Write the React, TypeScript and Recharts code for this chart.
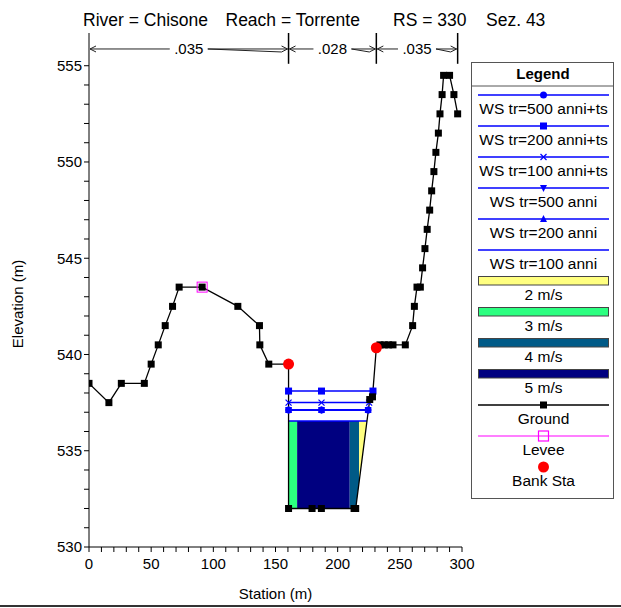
import React from "react";
import { ComposedChart, Line, Area, XAxis, YAxis, ReferenceLine } from "recharts";

const FONT = "'Liberation Sans', Arial, Helvetica, sans-serif";

// ground profile
const groundSta = [
  0, 16, 26, 44.5, 50, 55.7, 61.3, 67.2, 72.5, 91, 119.7, 137.1, 137.4, 144.6, 160.5, 160.5,
  179.4, 186.9, 213.2, 214.5, 225.8, 228, 231.1, 234, 237.5, 241, 244.5, 254.4, 260.3, 261.7,
  263.8, 266.5, 268.3, 270.2, 272, 274, 275.6, 277.4, 279, 281, 282.3, 284, 285.2, 290, 293.5, 296.5,
];
const groundElev = [
  538.5, 537.5, 538.5, 538.5, 539.5, 540.5, 541.5, 542.5, 543.5, 543.5, 542.5, 541.5, 540.5, 539.5, 539.5, 532,
  532, 532, 532, 532, 537.66, 537.8, 540.35, 540.5, 540.5, 540.5, 540.5, 540.5, 541.5, 542.5,
  543.5, 543.5, 544.5, 545.5, 546.5, 547.5, 548.5, 549.5, 550.5, 551.5, 552.5, 553.5, 554.5, 554.5, 553.5, 552.5,
];

const leveeSta = [91];
const leveeElev = [543.5];
const bankSta = [160.5, 231.1];
const bankElev = [539.5, 540.35];

// water surfaces: [left, middle, right] stations and elevation
const wsNames = ["WS tr=500 anni+ts", "WS tr=200 anni+ts", "WS tr=100 anni+ts", "WS tr=500 anni", "WS tr=200 anni", "WS tr=100 anni"];
const wsMarkers = ["circle", "square", "cross", "triDown", "triUp", "none"];
const wsElev = [537.12, 538.1, 537.5, 537.12, 537.12, 536.55];
const wsRight = [224.5, 228.4, 225.3, 224.5, 224.5, 223.6];
const wsMid = 187;

// velocity strips (station, bottom, top)
const velLabels = ["2 m/s", "3 m/s", "4 m/s", "5 m/s"];
const velColors = ["#ffff80", "#2cff80", "#005a87", "#000080"];
const stripGreen = { sta: [160.5, 167.4], lo: [532, 532], hi: [536.55, 536.55] };
const stripNavy = { sta: [167.4, 209.7], lo: [532, 532], hi: [536.55, 536.55] };
const stripTeal = { sta: [209.7, 214.5, 217.2], lo: [532, 532, 533.35], hi: [536.55, 536.55, 536.55] };
const stripYellow = { sta: [217.2, 223.6], lo: [533.35, 536.55], hi: [536.55, 536.55] };

// Manning n spans along the top
const nBreaks = [0, 160.5, 231.1, 296.5];
const nValues = [".035", ".028", ".035"];
const DIM_Y = 555.87;

const xTicks = Array.from({ length: 31 }, (_, i) => i * 10);
const yTicks = Array.from({ length: 26 }, (_, i) => 530 + i);

const toRows = (sta: number[], el: number[]) => sta.map((x, i) => ({ x, y: el[i] }));
const stripRows = (s: { sta: number[]; lo: number[]; hi: number[] }) =>
  s.sta.map((x, i) => ({ x, lo: s.lo[i], hi: s.hi[i] }));

function Marker({ kind, cx, cy, color }: { kind: string; cx: number; cy: number; color: string }) {
  if (kind === "square") return <rect x={cx - 3.5} y={cy - 3.5} width={7} height={7} fill={color} />;
  if (kind === "circle") return <circle cx={cx} cy={cy} r={3.5} fill={color} />;
  if (kind === "cross")
    return (
      <g stroke={color} strokeWidth={1.2}>
        <line x1={cx - 3} y1={cy - 3} x2={cx + 3} y2={cy + 3} />
        <line x1={cx - 3} y1={cy + 3} x2={cx + 3} y2={cy - 3} />
      </g>
    );
  if (kind === "triDown") return <polygon points={`${cx - 3.5},${cy - 3} ${cx + 3.5},${cy - 3} ${cx},${cy + 4}`} fill={color} />;
  if (kind === "triUp") return <polygon points={`${cx - 3.5},${cy + 3} ${cx + 3.5},${cy + 3} ${cx},${cy - 4}`} fill={color} />;
  return <g />;
}

function DimArrow(p: any) {
  const xa = Math.min(p.x1, p.x2);
  const xb = Math.max(p.x1, p.x2);
  const y = p.y1;
  const cx = (xa + xb) / 2;
  const half = 19;
  return (
    <g stroke="#222" strokeWidth={1} fill="none">
      <line x1={xa + 1} y1={y} x2={cx - half} y2={y} />
      <line x1={cx + half} y1={y} x2={xb - 1} y2={y} />
      <line x1={cx + half} y1={y} x2={xb - 7} y2={y + 3} />
      <polyline points={`${xa + 7},${y - 3} ${xa + 1},${y} ${xa + 7},${y + 3}`} />
      <polyline points={`${xb - 7},${y - 3} ${xb - 1},${y} ${xb - 7},${y + 3}`} />
      <text x={cx} y={y + 5} textAnchor="middle" fontSize={15} fontFamily={FONT} stroke="none" fill="#000">
        {p.text}
      </text>
    </g>
  );
}

function LegendBox() {
  const W = 142;
  const step = 31;
  const items = [
    ...wsNames.map((name, i) => ({ name, type: "ws", marker: wsMarkers[i], color: "#0000ff" })),
    ...velLabels.map((name, i) => ({ name, type: "rect", marker: "none", color: velColors[i] })),
    { name: "Ground", type: "ws", marker: "square", color: "#000" },
    { name: "Levee", type: "levee", marker: "none", color: "#ff00ff" },
    { name: "Bank Sta", type: "bank", marker: "none", color: "#ff0000" },
  ];
  return (
    <svg width={W + 2} height={438} style={{ position: "absolute", left: 471, top: 62 }}>
      <rect x={0.5} y={0.5} width={W} height={436} fill="#fff" stroke="#555" />
      <text x={W / 2 + 1} y={17} textAnchor="middle" fontSize={15} fontWeight="bold" fontFamily={FONT}>
        Legend
      </text>
      <line x1={0.5} y1={24} x2={W} y2={24} stroke="#555" />
      {items.map((it, i) => {
        const sy = 33 + step * i;
        const ty = sy + 19;
        const cx = 72.5;
        return (
          <g key={it.name}>
            {it.type === "ws" && <line x1={7} y1={sy} x2={138} y2={sy} stroke={it.color} strokeWidth={1.3} />}
            {it.type === "ws" && <Marker kind={it.marker} cx={cx} cy={sy} color={it.color} />}
            {it.type === "rect" && (
              <rect x={7.5} y={sy - 4.5} width={130} height={8.5} fill={it.color} stroke="#444" />
            )}
            {it.type === "levee" && (
              <g>
                <line x1={7} y1={sy} x2={138} y2={sy} stroke={it.color} strokeWidth={1.2} />
                <rect x={cx - 5} y={sy - 5} width={10} height={10} fill="none" stroke={it.color} strokeWidth={1.2} />
              </g>
            )}
            {it.type === "bank" && <circle cx={cx} cy={sy} r={5.5} fill={it.color} />}
            <text x={cx} y={ty} textAnchor="middle" fontSize={15.5} fontFamily={FONT}>
              {it.name}
            </text>
          </g>
        );
      })}
    </svg>
  );
}

export default function App() {
  const ground = toRows(groundSta, groundElev);
  const levee = toRows(leveeSta, leveeElev);
  const bank = toRows(bankSta, bankElev);
  const strips = [
    { rows: stripRows(stripGreen), color: velColors[1] },
    { rows: stripRows(stripNavy), color: velColors[3] },
    { rows: stripRows(stripTeal), color: velColors[2] },
    { rows: stripRows(stripYellow), color: velColors[0] },
  ];
  const wsLines = wsNames.map((name, i) => ({
    name,
    marker: wsMarkers[i],
    rows: [
      { x: 160.5, y: wsElev[i] },
      { x: wsMid, y: wsElev[i] },
      { x: wsRight[i], y: wsElev[i] },
    ],
  }));
  // draw lowest profile first so markers on top stay visible
  const wsOrder = [5, 4, 3, 0, 2, 1];

  return (
    <div style={{ position: "absolute", left: 0, top: 0, width: 621, height: 608, background: "#fff", fontFamily: FONT }}>
      <svg width={621} height={40} style={{ position: "absolute", left: 0, top: 0 }}>
        <g fontSize={17.5} fontFamily={FONT} fill="#000">
          <text x={83} y={25.5}>River = Chisone</text>
          <text x={225.5} y={25.5}>Reach = Torrente</text>
          <text x={393} y={25.5}>RS = 330</text>
          <text x={486} y={25.5}>Sez. 43</text>
        </g>
      </svg>
      <ComposedChart
        width={621}
        height={608}
        margin={{ top: 33, right: 159, bottom: 0, left: 0 }}
        style={{ position: "absolute", left: 0, top: 0 }}
      >
        <XAxis
          type="number"
          dataKey="x"
          domain={[0, 300]}
          ticks={xTicks}
          interval={0}
          tickFormatter={(v: number) => (v % 50 === 0 ? String(v) : "")}
          tick={{ fontSize: 15, fill: "#000", fontFamily: FONT }}
          tickSize={5}
          tickMargin={6}
          stroke="#000"
          height={61}
          allowDataOverflow
          label={{ value: "Station (m)", position: "insideBottom", offset: 9, fontSize: 15, fill: "#000", fontFamily: FONT }}
        />
        <YAxis
          type="number"
          dataKey="y"
          domain={[530, 556.7]}
          ticks={yTicks}
          interval={0}
          tickFormatter={(v: number) => (v % 5 === 0 ? String(v) : "")}
          tick={{ fontSize: 15, fill: "#000", fontFamily: FONT }}
          tickSize={5}
          tickMargin={2}
          stroke="#000"
          width={89}
          allowDataOverflow
          label={{
            value: "Elevation (m)",
            angle: -90,
            position: "insideLeft",
            offset: 18,
            dy: 14,
            fontSize: 15,
            fill: "#000",
            fontFamily: FONT,
            style: { textAnchor: "middle" },
          }}
        />
        {strips.map((s, i) => (
          <Area
            key={"strip" + i}
            data={s.rows}
            dataKey={(d: any) => [d.lo, d.hi]}
            type="linear"
            fill={s.color}
            fillOpacity={1}
            stroke="none"
            isAnimationActive={false}
          />
        ))}
        {wsOrder.map((i) => {
          const w = wsLines[i];
          return (
            <Line
              key={w.name}
              data={w.rows}
              dataKey="y"
              type="linear"
              stroke="#0000ff"
              strokeWidth={1.5}
              isAnimationActive={false}
              dot={(p: any) => <Marker key={w.name + p.index} kind={w.marker} cx={p.cx} cy={p.cy} color="#0000ff" />}
              activeDot={false}
            />
          );
        })}
        <Line
          data={ground}
          dataKey="y"
          type="linear"
          stroke="#000"
          strokeWidth={1.3}
          isAnimationActive={false}
          dot={(p: any) => <rect key={"g" + p.index} x={p.cx - 3.5} y={p.cy - 3.5} width={7} height={7} fill="#000" />}
          activeDot={false}
        />
        <Line
          data={levee}
          dataKey="y"
          stroke="none"
          isAnimationActive={false}
          dot={(p: any) => (
            <rect
              key={"lv" + p.index}
              x={p.cx - 5}
              y={p.cy - 5}
              width={10}
              height={10}
              fill="none"
              stroke="#ff00ff"
              strokeWidth={1}
            />
          )}
          activeDot={false}
        />
        <Line
          data={bank}
          dataKey="y"
          stroke="none"
          isAnimationActive={false}
          dot={(p: any) => <circle key={"b" + p.index} cx={p.cx} cy={p.cy} r={5.5} fill="#ff0000" />}
          activeDot={false}
        />
        {nValues.map((n, i) => (
          <ReferenceLine
            key={"dim" + i}
            segment={[
              { x: nBreaks[i], y: DIM_Y },
              { x: nBreaks[i + 1], y: DIM_Y },
            ]}
            ifOverflow="visible"
            shape={(p: any) => <DimArrow {...p} text={n} />}
          />
        ))}
        {nBreaks.slice(1).map((b, i) => (
          <ReferenceLine
            key={"brk" + i}
            segment={[
              { x: b, y: 556.7 },
              { x: b, y: 555.1 },
            ]}
            stroke="#000"
            strokeWidth={1.5}
            ifOverflow="visible"
          />
        ))}
      </ComposedChart>
      <LegendBox />
      <div style={{ position: "absolute", left: 0, top: 605, width: 621, height: 2, background: "#333" }} />
    </div>
  );
}
